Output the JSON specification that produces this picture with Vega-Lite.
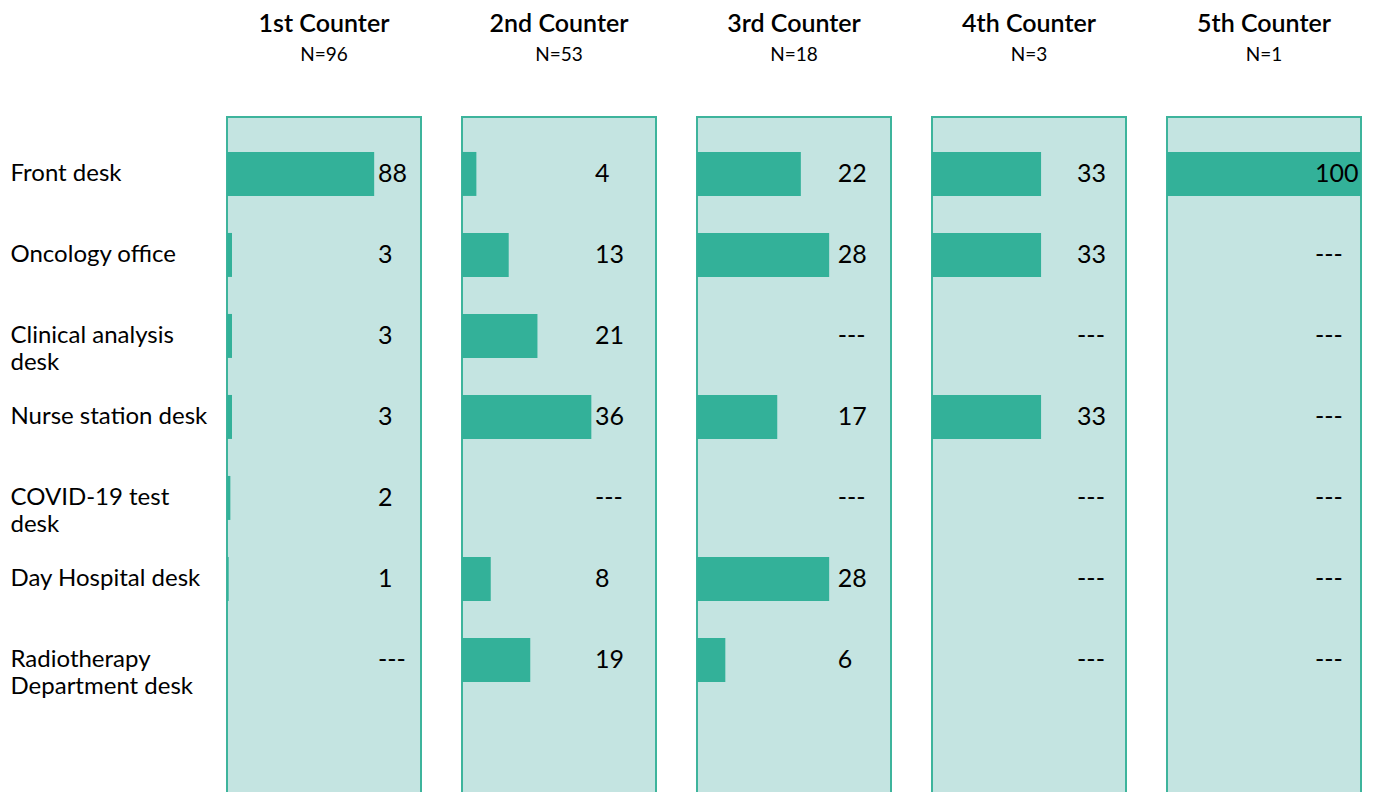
{
  "$schema": "https://vega.github.io/schema/vega-lite/v6.json",
  "padding": {"left": 9, "top": 11, "right": 0, "bottom": 0},
  "background": "white",
  "datasets": {
    "d": [
      {"counter": 1, "category": "Front desk", "pct": 88},
      {"counter": 1, "category": "Oncology office", "pct": 3},
      {"counter": 1, "category": "Clinical analysis desk", "pct": 3},
      {"counter": 1, "category": "Nurse station desk", "pct": 3},
      {"counter": 1, "category": "COVID-19 test desk", "pct": 2},
      {"counter": 1, "category": "Day Hospital desk", "pct": 1},
      {"counter": 1, "category": "Radiotherapy Department desk", "pct": null},
      {"counter": 2, "category": "Front desk", "pct": 4},
      {"counter": 2, "category": "Oncology office", "pct": 13},
      {"counter": 2, "category": "Clinical analysis desk", "pct": 21},
      {"counter": 2, "category": "Nurse station desk", "pct": 36},
      {"counter": 2, "category": "COVID-19 test desk", "pct": null},
      {"counter": 2, "category": "Day Hospital desk", "pct": 8},
      {"counter": 2, "category": "Radiotherapy Department desk", "pct": 19},
      {"counter": 3, "category": "Front desk", "pct": 22},
      {"counter": 3, "category": "Oncology office", "pct": 28},
      {"counter": 3, "category": "Clinical analysis desk", "pct": null},
      {"counter": 3, "category": "Nurse station desk", "pct": 17},
      {"counter": 3, "category": "COVID-19 test desk", "pct": null},
      {"counter": 3, "category": "Day Hospital desk", "pct": 28},
      {"counter": 3, "category": "Radiotherapy Department desk", "pct": 6},
      {"counter": 4, "category": "Front desk", "pct": 33},
      {"counter": 4, "category": "Oncology office", "pct": 33},
      {"counter": 4, "category": "Clinical analysis desk", "pct": null},
      {"counter": 4, "category": "Nurse station desk", "pct": 33},
      {"counter": 4, "category": "COVID-19 test desk", "pct": null},
      {"counter": 4, "category": "Day Hospital desk", "pct": null},
      {"counter": 4, "category": "Radiotherapy Department desk", "pct": null},
      {"counter": 5, "category": "Front desk", "pct": 100},
      {"counter": 5, "category": "Oncology office", "pct": null},
      {"counter": 5, "category": "Clinical analysis desk", "pct": null},
      {"counter": 5, "category": "Nurse station desk", "pct": null},
      {"counter": 5, "category": "COVID-19 test desk", "pct": null},
      {"counter": 5, "category": "Day Hospital desk", "pct": null},
      {"counter": 5, "category": "Radiotherapy Department desk", "pct": null}
    ]
  },
  "data": {"name": "d"},
  "transform": [
    {"calculate": "datum.pct == null ? '---' : format(datum.pct, 'd')", "as": "label"}
  ],
  "spacing": 39,
  "resolve": {"scale": {"x": "independent", "y": "independent"}},
  "hconcat": [
    {
      "title": {"text": "1st Counter", "subtitle": "N=96"},
      "width": 194, "height": 680,
      "transform": [{"filter": "datum.counter == 1"}],
      "layer": [
        {"mark": {"type": "bar", "color": "#33b199"},
         "encoding": {
           "x": {"field": "pct", "type": "quantitative", "scale": {"domain": [0, 116], "nice": false}, "axis": null},
           "y": {"field": "category", "type": "nominal", "sort": null, "title": null,
                 "scale": {"domain": ["Front desk", "Oncology office", "Clinical analysis desk", "Nurse station desk", "COVID-19 test desk", "Day Hospital desk", "Radiotherapy Department desk"], "paddingInner": 0.457, "paddingOuter": 0.926, "align": 0.233},
                 "axis": {"domain": false, "ticks": false, "labelAlign": "left", "labelPadding": 217, "labelBaseline": "middle", "labelLineHeight": 27,
                          "labelExpr": "datum.label == 'Clinical analysis desk' ? ['Clinical analysis', 'desk'] : datum.label == 'COVID-19 test desk' ? ['COVID-19 test', 'desk'] : datum.label == 'Radiotherapy Department desk' ? ['Radiotherapy', 'Department desk'] : datum.label"}}
         }},
        {"mark": {"type": "text", "align": "left", "baseline": "middle"},
         "encoding": {
           "x": {"datum": 90.3, "type": "quantitative"},
           "y": {"field": "category", "type": "nominal", "sort": null},
           "text": {"field": "label"}
         }}
      ]
    },
    {
      "title": {"text": "2nd Counter", "subtitle": "N=53"},
      "width": 194, "height": 680,
      "transform": [{"filter": "datum.counter == 2"}],
      "layer": [
        {"mark": {"type": "bar", "color": "#33b199"},
         "encoding": {
           "x": {"field": "pct", "type": "quantitative", "scale": {"domain": [0, 54], "nice": false}, "axis": null},
           "y": {"field": "category", "type": "nominal", "sort": null, "axis": null,
                 "scale": {"domain": ["Front desk", "Oncology office", "Clinical analysis desk", "Nurse station desk", "COVID-19 test desk", "Day Hospital desk", "Radiotherapy Department desk"], "paddingInner": 0.457, "paddingOuter": 0.926, "align": 0.233}}
         }},
        {"mark": {"type": "text", "align": "left", "baseline": "middle"},
         "encoding": {
           "x": {"datum": 37.0, "type": "quantitative"},
           "y": {"field": "category", "type": "nominal", "sort": null},
           "text": {"field": "label"}
         }}
      ]
    },
    {
      "title": {"text": "3rd Counter", "subtitle": "N=18"},
      "width": 194, "height": 680,
      "transform": [{"filter": "datum.counter == 3"}],
      "layer": [
        {"mark": {"type": "bar", "color": "#33b199"},
         "encoding": {
           "x": {"field": "pct", "type": "quantitative", "scale": {"domain": [0, 41.1], "nice": false}, "axis": null},
           "y": {"field": "category", "type": "nominal", "sort": null, "axis": null,
                 "scale": {"domain": ["Front desk", "Oncology office", "Clinical analysis desk", "Nurse station desk", "COVID-19 test desk", "Day Hospital desk", "Radiotherapy Department desk"], "paddingInner": 0.457, "paddingOuter": 0.926, "align": 0.233}}
         }},
        {"mark": {"type": "text", "align": "left", "baseline": "middle"},
         "encoding": {
           "x": {"datum": 29.8, "type": "quantitative"},
           "y": {"field": "category", "type": "nominal", "sort": null},
           "text": {"field": "label"}
         }}
      ]
    },
    {
      "title": {"text": "4th Counter", "subtitle": "N=3"},
      "width": 194, "height": 680,
      "transform": [{"filter": "datum.counter == 4"}],
      "layer": [
        {"mark": {"type": "bar", "color": "#33b199"},
         "encoding": {
           "x": {"field": "pct", "type": "quantitative", "scale": {"domain": [0, 58.7], "nice": false}, "axis": null},
           "y": {"field": "category", "type": "nominal", "sort": null, "axis": null,
                 "scale": {"domain": ["Front desk", "Oncology office", "Clinical analysis desk", "Nurse station desk", "COVID-19 test desk", "Day Hospital desk", "Radiotherapy Department desk"], "paddingInner": 0.457, "paddingOuter": 0.926, "align": 0.233}}
         }},
        {"mark": {"type": "text", "align": "left", "baseline": "middle"},
         "encoding": {
           "x": {"datum": 43.9, "type": "quantitative"},
           "y": {"field": "category", "type": "nominal", "sort": null},
           "text": {"field": "label"}
         }}
      ]
    },
    {
      "title": {"text": "5th Counter", "subtitle": "N=1"},
      "width": 194, "height": 680,
      "transform": [{"filter": "datum.counter == 5"}],
      "layer": [
        {"mark": {"type": "bar", "color": "#33b199"},
         "encoding": {
           "x": {"field": "pct", "type": "quantitative", "scale": {"domain": [0, 100], "nice": false}, "axis": null},
           "y": {"field": "category", "type": "nominal", "sort": null, "axis": null,
                 "scale": {"domain": ["Front desk", "Oncology office", "Clinical analysis desk", "Nurse station desk", "COVID-19 test desk", "Day Hospital desk", "Radiotherapy Department desk"], "paddingInner": 0.457, "paddingOuter": 0.926, "align": 0.233}}
         }},
        {"mark": {"type": "text", "align": "left", "baseline": "middle"},
         "encoding": {
           "x": {"datum": 76.3, "type": "quantitative"},
           "y": {"field": "category", "type": "nominal", "sort": null},
           "text": {"field": "label"}
         }}
      ]
    }
  ],
  "config": {
    "font": "Lato",
    "view": {"fill": "#c4e4e1", "stroke": "#3db49c", "strokeWidth": 2},
    "text": {"font": "Lato", "fontSize": 25, "color": "black"},
    "axis": {"labelFont": "Lato", "labelFontSize": 24, "labelColor": "black", "labelLimit": 300},
    "title": {"font": "Lato", "fontSize": 25, "fontWeight": 600, "color": "black", "anchor": "middle",
              "subtitleFont": "Lato", "subtitleFontSize": 19, "subtitleColor": "black", "subtitlePadding": 9, "offset": 52}
  }
}
